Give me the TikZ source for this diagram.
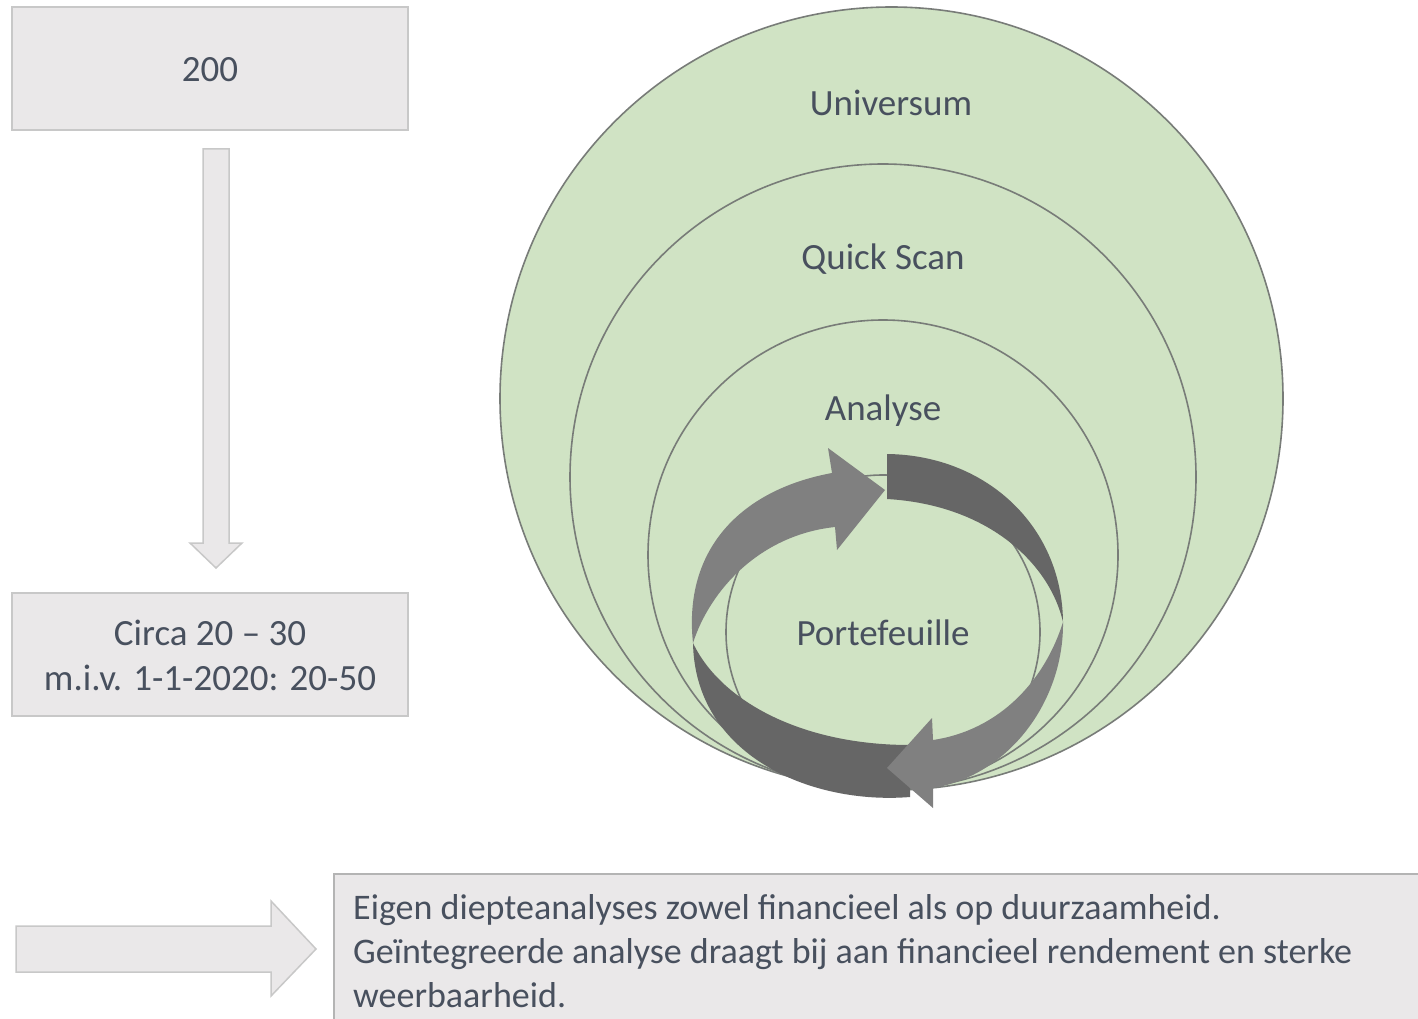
\documentclass[tikz,border=0pt]{standalone}
\usepackage{fontspec}
\setmainfont{Carlito}
\definecolor{boxfill}{RGB}{234,232,233}
\definecolor{boxline}{RGB}{200,200,200}
\definecolor{circfill}{RGB}{208,227,196}
\definecolor{circline}{RGB}{120,124,120}
\definecolor{txt}{RGB}{72,80,94}
\definecolor{arlight}{RGB}{128,128,128}
\definecolor{ardark}{RGB}{102,102,102}
\begin{document}
\begin{tikzpicture}[x=1pt,y=-1pt,
  font=\fontsize{37}{44}\selectfont,
  greybox/.style={draw=boxline, line width=1.5pt, fill=boxfill, inner sep=0pt},
  ring/.style={circle, draw=circline, line width=1.6pt, fill=circfill, inner sep=0pt},
  lbl/.style={text=txt, inner sep=0pt},
  bigarrow/.style={draw=boxline, line width=1.5pt, fill=boxfill, line join=miter}]
\clip (0,0) rectangle (1418,1019);
\fill[white] (0,0) rectangle (1418,1019);

% left boxes
\node[greybox, minimum width=396pt, minimum height=123pt] (b200) at (210,68.5) {};
\node[lbl, anchor=base] (t200) at (210,82) {200};
\node[greybox, minimum width=396pt, minimum height=123pt] (bcirca) at (210,654.5) {};
\node[lbl, anchor=base, align=center, font=\fontsize{37}{45}\selectfont] (tcirca) at (210,690) {Circa 20 -- 30\\m.i.v. 1-1-2020: 20-50};

% down arrow
\coordinate (dtop) at (216,149);
\coordinate (dtip) at (216,568);
\draw[bigarrow] (203,149) -- (229,149) -- (229,543) -- (242,543) -- (dtip) -- (190,543) -- (203,543) -- cycle;

% circles
\node[ring, minimum size=783pt] (uni) at (891.5,398.5) {};
\node[ring, minimum size=626pt] (qs) at (883,477) {};
\node[ring, minimum size=470pt] (an) at (883,555) {};
\node[ring, minimum size=314pt] (pf) at (883,632) {};
\node[lbl, anchor=base] (tuni) at (891,116) {Universum};
\node[lbl, anchor=base] (tqs) at (883,269) {Quick Scan};
\node[lbl, anchor=base] (tan) at (883,420) {Analyse};
\node[lbl, anchor=base] (tpf) at (883,645) {Portefeuille};

% circular arrows: dark parts
\fill[ardark] (887,454) .. controls (985,455) and (1062,525) .. (1063,622)
  .. controls (1050,565) and (990,505) .. (887,499) -- cycle;
\fill[ardark] (910,797) .. controls (810,805) and (695,755) .. (693,643)
  .. controls (720,700) and (800,745) .. (910,745) -- cycle;
% light parts with heads
\fill[arlight] (1063,622) .. controls (1064,700) and (1010,775) .. (933,788)
  -- (933,808) -- (887,768) -- (932,718) -- (933,740)
  .. controls (1000,730) and (1045,680) .. (1063,622) -- cycle;
\fill[arlight] (693,643) .. controls (683,550) and (740,490) .. (832,473)
  -- (828,448) -- (885,490) -- (837,550) -- (835,527)
  .. controls (760,535) and (710,590) .. (693,643) -- cycle;

% bottom arrow and box
\draw[bigarrow] (16,926) -- (271,926) -- (271,901) -- (316,949) -- (271,996) -- (271,972) -- (16,972) -- cycle;
\node[greybox, draw=boxline!90!black, anchor=north west, minimum width=1120pt, minimum height=200pt] (info) at (333,873) {};
\node[lbl, anchor=base west, align=left, font=\fontsize{36}{44}\selectfont] (tinfo) at (353,1007) {Eigen diepteanalyses zowel financieel als op duurzaamheid.\\Geïntegreerde analyse draagt bij aan financieel rendement en sterke\\weerbaarheid.};
\end{tikzpicture}
\end{document}
